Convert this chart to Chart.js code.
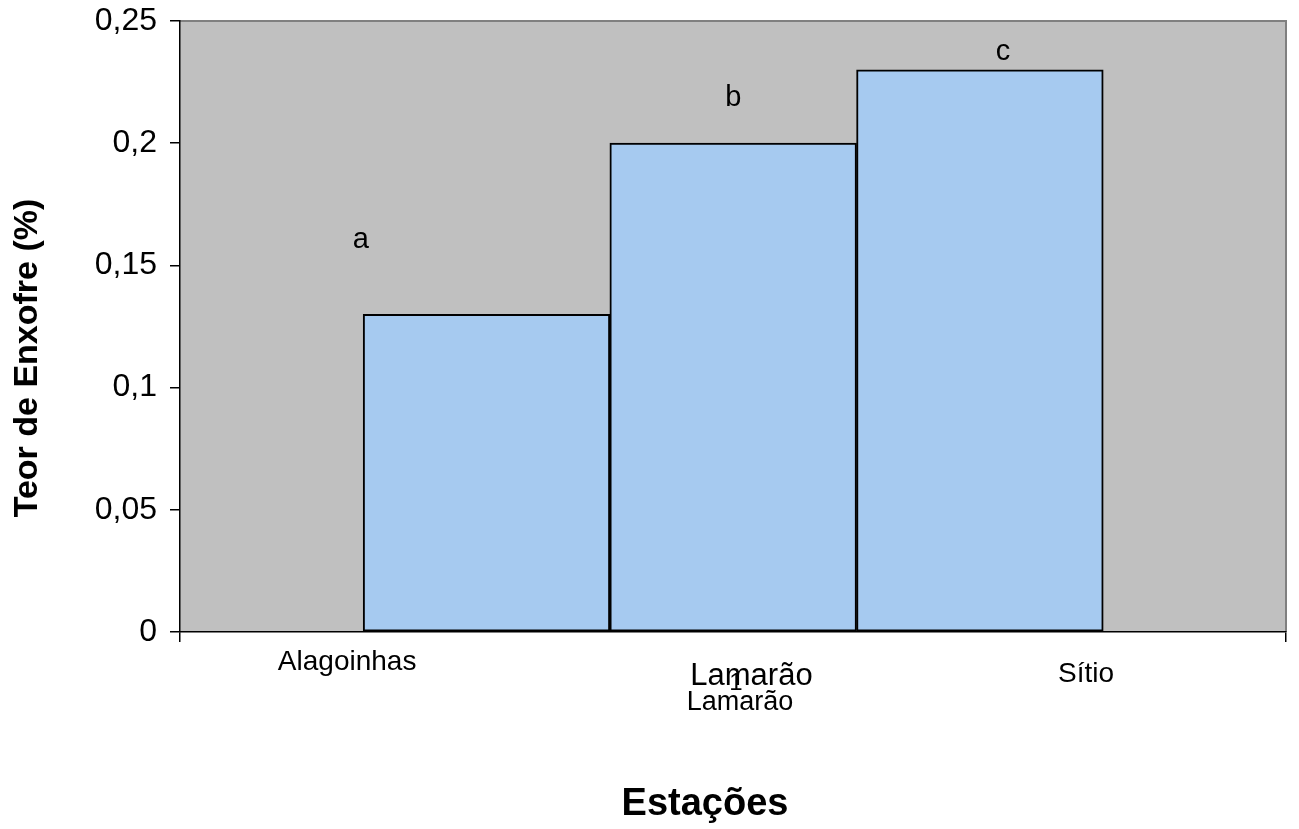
<!DOCTYPE html>
<html>
<head>
<meta charset="utf-8">
<script src="https://cdn.jsdelivr.net/npm/chart.js@4.4.1/dist/chart.umd.min.js"></script>
<style>
  html, body { margin: 0; padding: 0; background: #ffffff; }
  #wrap { width: 1299px; height: 829px; }
</style>
</head>
<body>
<div id="wrap"><canvas id="chart" width="1299" height="829"></canvas></div>
<script>
// Station names, sulfur content (%) and significance letters
const estacoes = ['Alagoinhas', 'Lamarão', 'Sítio'];
const teorEnxofre = [0.13, 0.20, 0.23];
const letras = ['a', 'b', 'c'];
const yTicks = [0, 0.05, 0.1, 0.15, 0.2, 0.25];

// Layout of the free text (x in axis units, y in pixels / values)
const xMin = -0.2424, xMax = 4.2408;
const letraPos = [
  { dx: -0.509, y: 0.157 },
  { dx: 0.0,    y: 0.2152 },
  { dx: 0.094,  y: 0.234 }
];
const rotulos = [
  { text: estacoes[0], x: 0.435, base: 670, size: 28 },
  { text: estacoes[1], x: 2.074, base: 685, size: 31 },
  { text: '1',         x: 2.011, base: 690, size: 24 },
  { text: estacoes[1], x: 2.028, base: 710, size: 27 },
  { text: estacoes[2], x: 3.430, base: 682, size: 28 }
];

const FONT = '"Liberation Sans", Arial, sans-serif';

const plotFrame = {
  id: 'plotFrame',
  beforeDraw(chart) {
    const { ctx, chartArea: a } = chart;
    ctx.save();
    ctx.fillStyle = '#c0c0c0';
    ctx.fillRect(a.left, a.top, a.right - a.left, a.bottom - a.top);
    ctx.strokeStyle = '#808080';
    ctx.lineWidth = 2;
    ctx.beginPath();
    ctx.moveTo(a.left, a.top);
    ctx.lineTo(a.right, a.top);
    ctx.lineTo(a.right, a.bottom);
    ctx.stroke();
    ctx.restore();
  },
  afterDraw(chart) {
    const { ctx } = chart;
    const xs = chart.scales.x, ys = chart.scales.y;
    ctx.save();
    ctx.fillStyle = '#000000';
    ctx.textAlign = 'center';
    ctx.textBaseline = 'alphabetic';
    // significance letters above the bars
    letras.forEach((l, i) => {
      ctx.font = '29px ' + FONT;
      ctx.fillText(l, xs.getPixelForValue(i + 1 + letraPos[i].dx), ys.getPixelForValue(letraPos[i].y));
    });
    // station labels under the axis
    rotulos.forEach(r => {
      ctx.font = r.size + 'px ' + FONT;
      ctx.fillText(r.text, xs.getPixelForValue(r.x), r.base);
    });
    // axis titles
    ctx.font = 'bold 38px ' + FONT;
    ctx.textBaseline = 'middle';
    ctx.fillText('Estações', 705, 805);
    ctx.translate(28, 358);
    ctx.rotate(-Math.PI / 2);
    ctx.font = 'bold 34px ' + FONT;
    ctx.fillText('Teor de Enxofre (%)', 0, 0);
    ctx.restore();
  }
};

new Chart(document.getElementById('chart'), {
  type: 'bar',
  data: {
    datasets: [{
      data: teorEnxofre.map((v, i) => ({ x: i + 1, y: v })),
      backgroundColor: '#a6caf0',
      borderColor: '#000000',
      borderWidth: 2,
      borderSkipped: false,
      barPercentage: 1,
      categoryPercentage: 1
    }]
  },
  options: {
    responsive: false,
    animation: false,
    layout: { padding: { top: 21, right: 13, left: 0, bottom: 0 } },
    plugins: { legend: { display: false }, tooltip: { enabled: false } },
    scales: {
      x: {
        type: 'linear',
        min: xMin,
        max: xMax,
        offset: false,
        afterBuildTicks: s => { s.ticks = [{ value: xMin }, { value: xMax }]; },
        afterFit: s => { s.height = 197; },
        ticks: { display: false },
        grid: { offset: false, drawOnChartArea: false, tickLength: 10, color: '#000000', lineWidth: 1.5 },
        border: { color: '#000000', width: 1.5 }
      },
      y: {
        min: 0,
        max: 0.25,
        afterBuildTicks: s => { s.ticks = yTicks.map(v => ({ value: v })); },
        afterFit: s => { s.width = 180; s.paddingTop = 0; s.paddingBottom = 0; },
        ticks: {
          padding: 13,
          color: '#000000',
          font: { family: FONT, size: 32, lineHeight: 0.6 },
          callback: v => String(Number(v.toFixed(2))).replace('.', ',')
        },
        grid: { drawOnChartArea: false, tickLength: 10, color: '#000000', lineWidth: 1.5 },
        border: { color: '#000000', width: 1.5 }
      }
    }
  },
  plugins: [plotFrame]
});
</script>
</body>
</html>
